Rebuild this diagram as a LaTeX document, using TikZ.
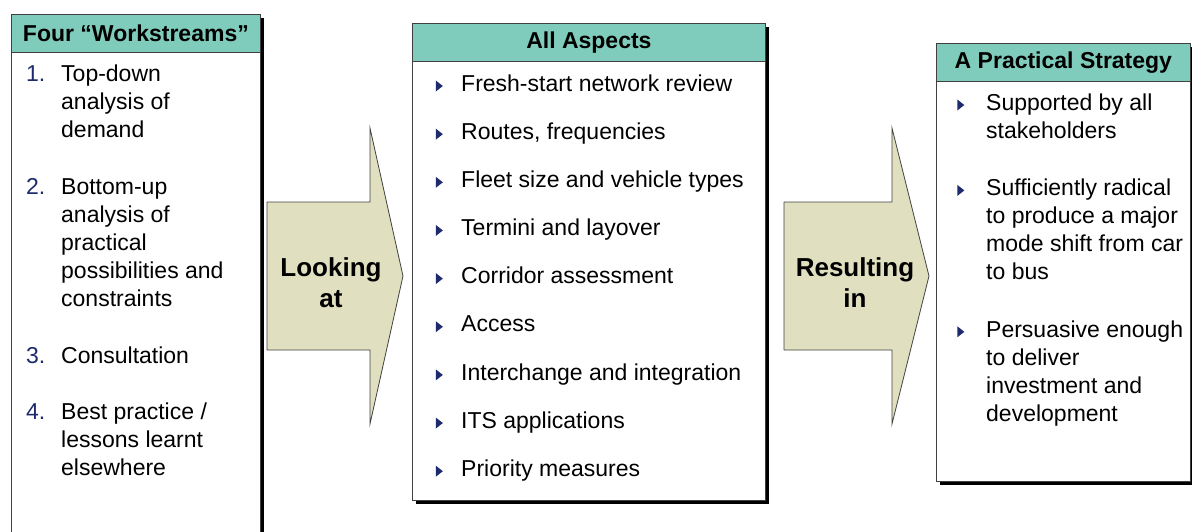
\documentclass[tikz,border=0pt]{standalone}
\usepackage{fontspec}
\setmainfont{Liberation Sans}
\usetikzlibrary{positioning,shadows,shapes.geometric}

\definecolor{headteal}{RGB}{127,204,188}
\definecolor{arrowtan}{RGB}{224,224,193}
\definecolor{bulletblue}{RGB}{30,42,110}
\definecolor{edgegray}{RGB}{64,64,64}

\tikzset{
  panel/.style={draw=edgegray, fill=white, line width=0.8pt, anchor=north west,
    inner sep=0pt, drop shadow={shadow xshift=4pt, shadow yshift=-4pt, fill=black, opacity=1}},
  head/.style={draw=edgegray, fill=headteal, line width=0.8pt, anchor=north west,
    inner sep=0pt, minimum height=38pt, font=\fontsize{23}{28}\selectfont\bfseries},
  entry/.style={anchor=north west, inner sep=0pt, align=left,
    font=\fontsize{23}{28}\selectfont},
  num/.style={anchor=north west, inner sep=0pt, text=bulletblue,
    font=\fontsize{23}{28}\selectfont},
  tri/.style={isosceles triangle, isosceles triangle stretches, fill=bulletblue,
    inner sep=0pt, minimum width=11pt, minimum height=7pt},
  bigarrow/.style={draw=edgegray, fill=arrowtan, line width=0.8pt, line join=miter},
  arrowtext/.style={align=center, inner sep=0pt, font=\fontsize{26}{31}\selectfont\bfseries},
}

\begin{document}
\begin{tikzpicture}[x=1pt, y=-1pt]
  \useasboundingbox (0,0) rectangle (1192,531);

  % left panel
  \node[panel, minimum width=249pt, minimum height=560pt] (p1) at (11,14) {};
  \node[head, minimum width=249pt] (h1) at (p1.north west) {Four “Workstreams”};
  \node[entry] (w1) at (61,61.4) {\strut Top-down\\analysis of\\demand\strut};
  \node[entry, below=28.5pt of w1.south west, anchor=north west] (w2)
    {\strut Bottom-up\\analysis of\\practical\\possibilities and\\constraints\strut};
  \node[entry, below=28.5pt of w2.south west, anchor=north west] (w3) {\strut Consultation\strut};
  \node[entry, below=28.5pt of w3.south west, anchor=north west] (w4)
    {\strut Best practice /\\lessons learnt\\elsewhere\strut};
  \node[num] (n1) at ([xshift=-35pt]w1.north west) {\strut 1.};
  \node[num] (n2) at ([xshift=-35pt]w2.north west) {\strut 2.};
  \node[num] (n3) at ([xshift=-35pt]w3.north west) {\strut 3.};
  \node[num] (n4) at ([xshift=-35pt]w4.north west) {\strut 4.};

  % first arrow
  \draw[bigarrow] (267,202) -- (370,202) -- (370,128) -- (403,276)
    -- (370,424) -- (370,350) -- (267,350) -- cycle;
  \node[arrowtext] (look) at (331,283) {Looking\\at};

  % middle panel
  \node[panel, minimum width=353pt, minimum height=477pt] (p2) at (412,23) {};
  \node[head, minimum width=353pt] (h2) at (p2.north west) {All Aspects};
  \node[entry] (a1) at (461,71.4) {\strut Fresh-start network review\strut};
  \node[entry, below=19.75pt of a1.south west, anchor=north west] (a2) {\strut Routes, frequencies\strut};
  \node[entry, below=19.75pt of a2.south west, anchor=north west] (a3) {\strut Fleet size and vehicle types\strut};
  \node[entry, below=19.75pt of a3.south west, anchor=north west] (a4) {\strut Termini and layover\strut};
  \node[entry, below=19.75pt of a4.south west, anchor=north west] (a5) {\strut Corridor assessment\strut};
  \node[entry, below=19.75pt of a5.south west, anchor=north west] (a6) {\strut Access\strut};
  \node[entry, below=19.75pt of a6.south west, anchor=north west] (a7) {\strut Interchange and integration\strut};
  \node[entry, below=19.75pt of a7.south west, anchor=north west] (a8) {\strut ITS applications\strut};
  \node[entry, below=19.75pt of a8.south west, anchor=north west] (a9) {\strut Priority measures\strut};
  \foreach \i in {1,...,9}
    \node[tri] at ([xshift=-22.5pt, yshift=-14.6pt]a\i.north west) {};

  % second arrow
  \draw[bigarrow] (784,202) -- (892,202) -- (892,128) -- (929,276)
    -- (892,424) -- (892,350) -- (784,350) -- cycle;
  \node[arrowtext] (result) at (855,283) {Resulting\\in};

  % right panel
  \node[panel, minimum width=254pt, minimum height=438pt] (p3) at (936,43) {};
  \node[head, minimum width=254pt] (h3) at (p3.north west) {A Practical Strategy};
  \node[entry] (s1) at (986,90.4) {\strut Supported by all\\stakeholders\strut};
  \node[entry, below=29pt of s1.south west, anchor=north west] (s2)
    {\strut Sufficiently radical\\to produce a major\\mode shift from car\\to bus\strut};
  \node[entry, below=29pt of s2.south west, anchor=north west] (s3)
    {\strut Persuasive enough\\to deliver\\investment and\\development\strut};
  \foreach \i in {1,2,3}
    \node[tri] at ([xshift=-26pt, yshift=-14.6pt]s\i.north west) {};
\end{tikzpicture}
\end{document}
